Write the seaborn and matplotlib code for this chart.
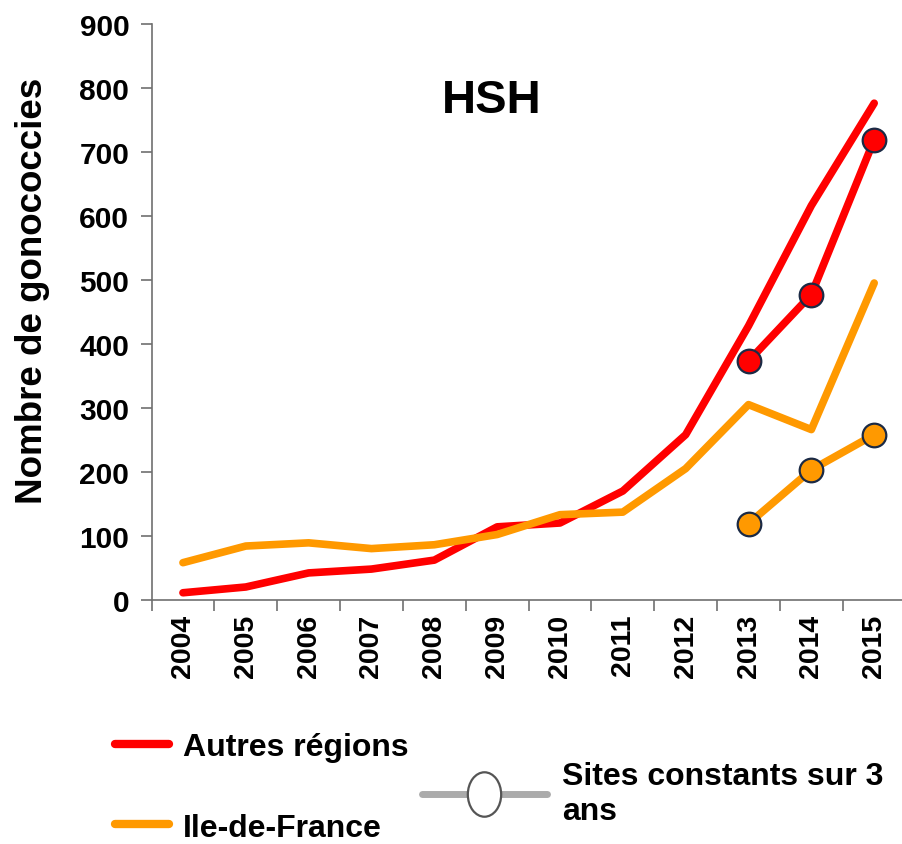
import matplotlib
matplotlib.use('Agg')
import matplotlib.pyplot as plt
from matplotlib.lines import Line2D
from matplotlib.path import Path
from matplotlib.transforms import Affine2D
import seaborn as sns

# Données
annees = [2004, 2005, 2006, 2007, 2008, 2009, 2010, 2011, 2012, 2013, 2014, 2015]
autres_regions = [11, 20, 42, 48, 62, 114, 120, 170, 258, 428, 616, 776]
ile_de_france = [58, 84, 89, 80, 86, 102, 133, 137, 205, 305, 266, 495]

annees_constantes = [2013, 2014, 2015]
autres_constants = [373, 477, 719]
idf_constants = [119, 203, 258]

rouge = '#FF0000'
orange = '#FF9900'
bord = '#1b2a45'
gris = '#707070'

sns.set_style('white')
plt.rcParams['font.family'] = ['Liberation Sans', 'DejaVu Sans']
plt.rcParams['font.weight'] = 'bold'
plt.rcParams['text.color'] = 'black'
plt.rcParams['axes.labelcolor'] = 'black'

fig = plt.figure(figsize=(9.02, 8.45), dpi=100)
ax = fig.add_axes([0.168, 0.289, 0.836, 0.6816])

sns.lineplot(x=annees, y=autres_regions, color=rouge, linewidth=5.5,
             solid_capstyle='round', ax=ax)
sns.lineplot(x=annees, y=ile_de_france, color=orange, linewidth=5.5,
             solid_capstyle='round', ax=ax)
sns.lineplot(x=annees_constantes, y=autres_constants, color=rouge, linewidth=5.5,
             marker='o', markersize=17, markerfacecolor=rouge,
             markeredgecolor=bord, markeredgewidth=1.6, ax=ax)
sns.lineplot(x=annees_constantes, y=idf_constants, color=orange, linewidth=5.5,
             marker='o', markersize=17, markerfacecolor=orange,
             markeredgecolor=bord, markeredgewidth=1.6, ax=ax)

ax.set_xlim(2003.5, 2015.5)
ax.set_ylim(0, 900)
ax.set_yticks(range(0, 901, 100))
ax.set_xticks(annees)
ax.set_xticks([a + 0.5 for a in annees[:-1]] + [2003.5], minor=True)
ax.tick_params(axis='x', which='major', length=0, pad=10, labelrotation=90,
               labelsize=20.5, labelcolor='black')
ax.tick_params(axis='x', which='minor', length=8, width=1.2, color=gris,
               direction='out', bottom=True)
ax.tick_params(axis='y', length=8, width=1.2, color=gris, direction='out',
               left=True, labelsize=21.5, pad=8, labelcolor='black')
for lab in ax.get_xticklabels() + ax.get_yticklabels():
    lab.set_fontweight('bold')

sns.despine(ax=ax)
for s in ['left', 'bottom']:
    ax.spines[s].set_color(gris)
    ax.spines[s].set_linewidth(1.2)

ax.set_ylabel('Nombre de gonococcies', fontsize=26.5, fontweight='bold')
ax.yaxis.set_label_coords(-0.135, 0.538)
ax.set_xlabel('')
ax.text(0.4515, 0.868, 'HSH', transform=ax.transAxes, fontsize=34,
        fontweight='bold', ha='center', va='center')

poignees = [Line2D([], [], color=rouge, linewidth=6, solid_capstyle='round'),
            Line2D([], [], color=orange, linewidth=6, solid_capstyle='round')]
leg1 = fig.legend(poignees, ['Autres régions', 'Ile-de-France'],
                  loc='upper left', bbox_to_anchor=(0.127, 0.1325), frameon=False,
                  prop={'size': 23, 'weight': 'bold'}, handlelength=1.7,
                  handletextpad=0.45, labelspacing=1.58, borderpad=0,
                  borderaxespad=0)

ellipse = Path.unit_circle().transformed(Affine2D().scale(0.75, 1.0))
sites = Line2D([], [], color='#ababab', linewidth=5,
               marker=ellipse, markersize=32, markerfacecolor='white',
               markeredgecolor='#555555', markeredgewidth=1.6)
leg2 = fig.legend([sites], ['Sites constants sur 3\nans'], loc='upper left',
                  bbox_to_anchor=(0.468, 0.098), frameon=False,
                  prop={'size': 23, 'weight': 'bold'}, handlelength=3.9,
                  handletextpad=0.47, borderpad=0, borderaxespad=0)

fig.savefig('out.png', dpi=100)
